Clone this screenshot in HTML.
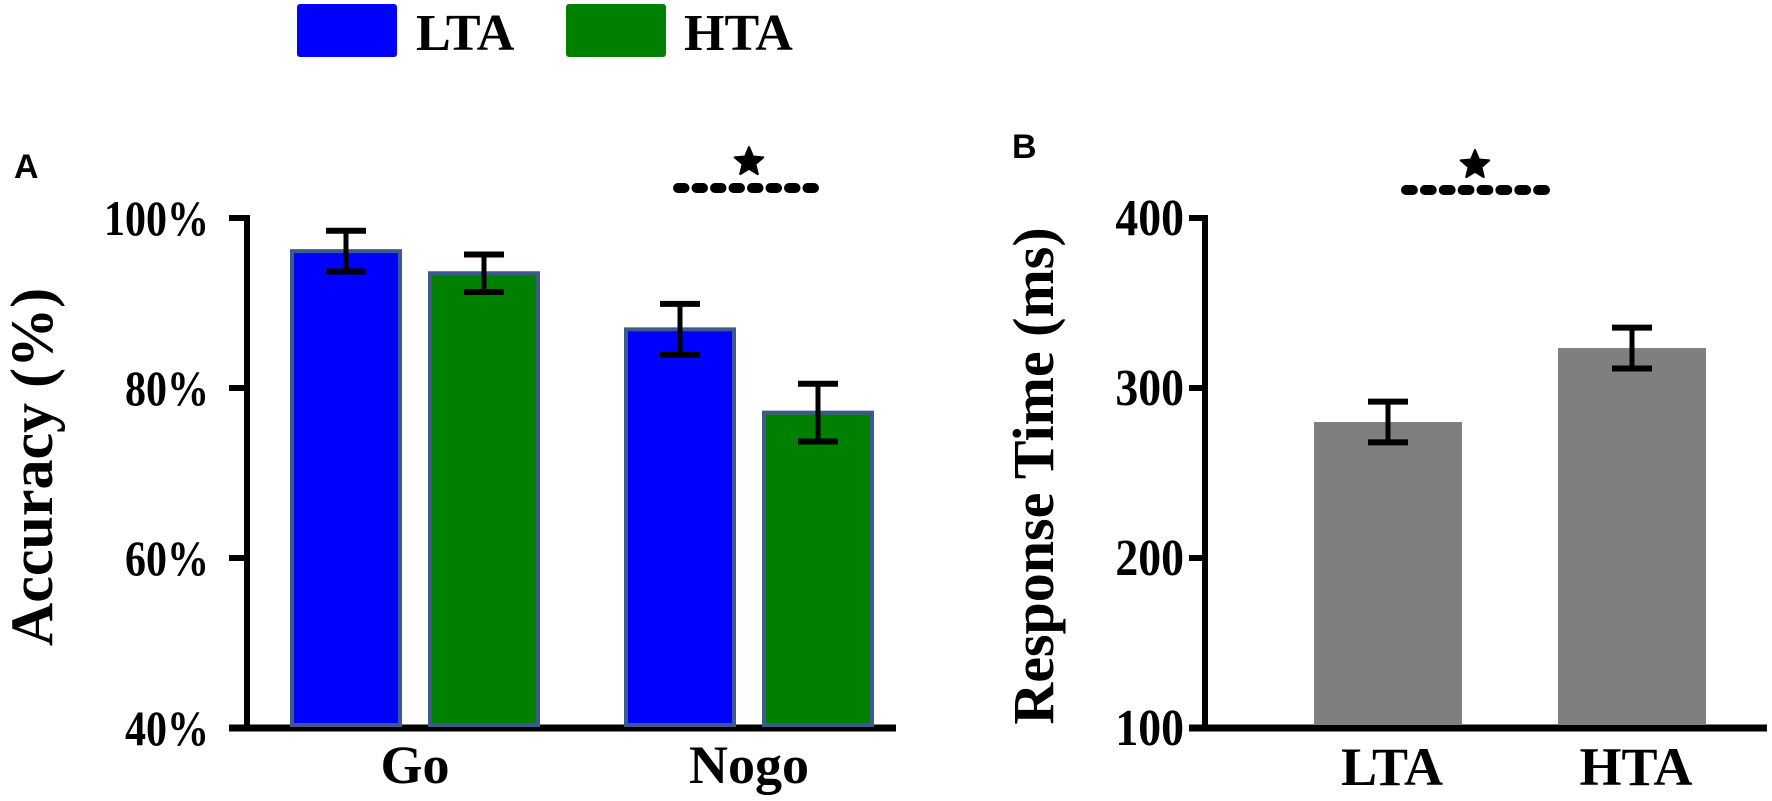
<!DOCTYPE html>
<html><head><meta charset="utf-8"><style>
html,body{margin:0;padding:0;background:#fff;}
svg{display:block;}
text{font-family:"Liberation Serif",serif;font-weight:bold;fill:#000;}
</style></head><body>
<svg id="fig" width="1772" height="801" viewBox="0 0 1772 801" xmlns="http://www.w3.org/2000/svg">
  <g>
    <rect x="297" y="4" width="100" height="53" rx="3" fill="#0000ff"/>
    <text x="416" y="50" font-size="52">LTA</text>
    <rect x="566" y="4" width="100" height="53" rx="3" fill="#008000"/>
    <text x="684" y="50" font-size="52">HTA</text>
  </g>
  <text x="14" y="178" font-size="34" style="font-family:'Liberation Sans',sans-serif;font-weight:bold">A</text>
  <text x="1012" y="158" font-size="34" style="font-family:'Liberation Sans',sans-serif;font-weight:bold">B</text>
  <g id="pa"></g>
  <g id="pb"></g>
</svg>
<script>
// Panel A data
const aCategories = ["Go", "Nogo"];
const aGroups = ["LTA", "HTA"];
const aLTA = [96.1, 86.9];
const aHTA = [93.5, 77.1];
const aErrLTA = [2.4, 3.0];
const aErrHTA = [2.2, 3.4];
const aTicks = [40, 60, 80, 100];
const aTickLabels = ["40%", "60%", "80%", "100%"];
// Panel B data
const bCategories = ["LTA", "HTA"];
const bValues = [280, 323.5];
const bErr = [12, 12];
const bTicks = [100, 200, 300, 400];
const bTickLabels = ["100", "200", "300", "400"];

const NS = "http://www.w3.org/2000/svg";
function mk(parent, tag, attrs, txt) {
  const e = document.createElementNS(NS, tag);
  for (const k in attrs) e.setAttribute(k, attrs[k]);
  if (txt !== undefined) e.textContent = txt;
  parent.appendChild(e);
  return e;
}
function squeeze(t, f) {
  const w = t.getComputedTextLength();
  t.setAttribute("textLength", (w * f).toFixed(1));
  t.setAttribute("lengthAdjust", "spacingAndGlyphs");
}
function star(parent, cx, cy, r) {
  let pts = [];
  for (let i = 0; i < 10; i++) {
    const ang = -Math.PI / 2 + i * Math.PI / 5;
    const rr = i % 2 ? r * 0.45 : r;
    pts.push((cx + rr * Math.cos(ang)).toFixed(1) + "," + (cy + rr * Math.sin(ang)).toFixed(1));
  }
  return mk(parent, "polygon", {points: pts.join(" "), fill: "#000", "stroke": "#000", "stroke-width": 2, "stroke-linejoin": "round"});
}
function dots(parent, x1, x2, y) {
  const g = mk(parent, "g", {});
  const n = 8, w = (x2 - x1) / n;
  for (let i = 0; i < n; i++) {
    mk(g, "rect", {x: x1 + i * w + 1, y: y - 5, width: w - 2, height: 10, rx: 5, fill: "#000"});
  }
  return g;
}

// ---------- Panel A ----------
(function () {
  const pa = document.getElementById("pa");
  const y0 = 728, ppu = 8.5, vmin = 40;
  const yA = v => y0 - (v - vmin) * ppu;
  const axX = 247;
  const ax = mk(pa, "line", {x1: axX, y1: yA(100) - 3, x2: axX, y2: y0 + 3, stroke: "#000", "stroke-width": 6});
  
  
  const bx = mk(pa, "line", {x1: axX - 18, y1: y0, x2: 896, y2: y0, stroke: "#000", "stroke-width": 7});
  
  
  aTicks.forEach((t, i) => {
    const tk = mk(pa, "line", {x1: axX - 18, y1: yA(t), x2: axX, y2: yA(t), stroke: "#000", "stroke-width": 6});
    
    
    const lb = mk(pa, "text", {x: 209, y: yA(t) + 17, "font-size": 50, "text-anchor": "end"}, aTickLabels[i]);
    
    
    squeeze(lb, 0.84);
  });
  const groupCenters = [415, 749];
  const barW = 112, gap = 26;
  const series = [[aLTA, aErrLTA, "#0000ff"], [aHTA, aErrHTA, "#008000"]];
  aCategories.forEach((c, ci) => {
    series.forEach((s, si) => {
      const left = groupCenters[ci] - gap / 2 - barW + si * (barW + gap);
      const v = s[0][ci], e = s[1][ci];
      const b = mk(pa, "rect", {x: left + 2, y: yA(v), width: barW - 4, height: y0 - yA(v) - 3, fill: s[2], stroke: "#3d5a8a", "stroke-width": 4});
      
      
      const cx = left + barW / 2;
      const eg = mk(pa, "g", {stroke: "#000"});
      
      
      mk(eg, "line", {x1: cx, y1: yA(v + e), x2: cx, y2: yA(v - e), "stroke-width": 5});
      mk(eg, "line", {x1: cx - 20, y1: yA(v + e), x2: cx + 20, y2: yA(v + e), "stroke-width": 6});
      mk(eg, "line", {x1: cx - 20, y1: yA(v - e), x2: cx + 20, y2: yA(v - e), "stroke-width": 6});
    });
    const xl = mk(pa, "text", {x: groupCenters[ci], y: 783, "font-size": 54, "text-anchor": "middle"}, c);
    
    
  });
  const yt = mk(pa, "text", {x: 0, y: 0, "font-size": 60, "text-anchor": "middle", transform: "translate(52,467) rotate(-90)"}, "Accuracy (%)");
  
  
  const sg = mk(pa, "g", {});
  
  
  star(sg, 749, 162, 15);
  dots(sg, 672, 820, 188);
})();

// ---------- Panel B ----------
(function () {
  const pb = document.getElementById("pb");
  const y0 = 728, ppu = 1.7, vmin = 100;
  const yB = v => y0 - (v - vmin) * ppu;
  const axX = 1205;
  const ax = mk(pb, "line", {x1: axX, y1: yB(400) - 3, x2: axX, y2: y0 + 3, stroke: "#000", "stroke-width": 6});
  
  
  const bx = mk(pb, "line", {x1: axX - 16, y1: y0, x2: 1767, y2: y0, stroke: "#000", "stroke-width": 7});
  
  
  bTicks.forEach((t, i) => {
    const tk = mk(pb, "line", {x1: axX - 16, y1: yB(t), x2: axX, y2: yB(t), stroke: "#000", "stroke-width": 6});
    
    
    const lb = mk(pb, "text", {x: 1184, y: yB(t) + 17, "font-size": 52, "text-anchor": "end"}, bTickLabels[i]);
    
    
    squeeze(lb, 0.88);
  });
  const centers = [1388, 1632];
  const barW = 148;
  bCategories.forEach((c, i) => {
    const v = bValues[i], e = bErr[i], cx = centers[i];
    const b = mk(pb, "rect", {x: cx - barW / 2, y: yB(v), width: barW, height: y0 - yB(v) - 3, fill: "#7f7f7f"});
    
    
    const eg = mk(pb, "g", {stroke: "#000"});
    
    
    mk(eg, "line", {x1: cx, y1: yB(v + e), x2: cx, y2: yB(v - e), "stroke-width": 5});
    mk(eg, "line", {x1: cx - 20, y1: yB(v + e), x2: cx + 20, y2: yB(v + e), "stroke-width": 6});
    mk(eg, "line", {x1: cx - 20, y1: yB(v - e), x2: cx + 20, y2: yB(v - e), "stroke-width": 6});
    const xl = mk(pb, "text", {x: cx + 4, y: 785, "font-size": 54, "text-anchor": "middle"}, c);
    
    
  });
  const yt = mk(pb, "text", {x: 0, y: 0, "font-size": 58, "text-anchor": "middle", transform: "translate(1053,476) rotate(-90)"}, "Response Time (ms)");
  
  
  const sg = mk(pb, "g", {});
  
  
  star(sg, 1475, 165, 15);
  dots(sg, 1400, 1551, 190);
})();
</script>
</body></html>
